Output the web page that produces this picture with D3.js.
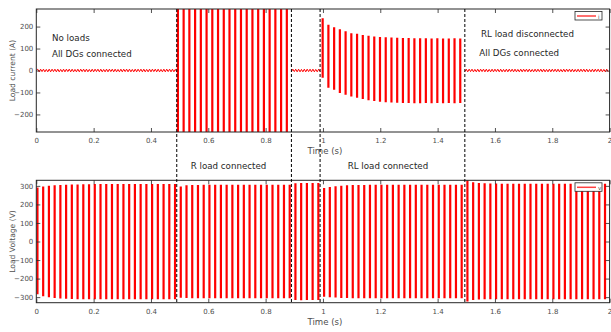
<!DOCTYPE html>
<html>
<head>
<meta charset="utf-8">
<script src="https://cdn.jsdelivr.net/npm/d3@7"></script>
<style>
  body { margin: 0; background: #fff; }
  svg { display: block; font-family: 'DejaVu Sans', Verdana, sans-serif; }
</style>
</head>
<body>
<svg id="chart" width="611" height="332"></svg>
<script>
// switching instants (s): R load on, R load off, RL load on, RL load off
const events = [0.49, 0.89, 0.99, 1.495]

const xTicks = [0, 0.2, 0.4, 0.6, 0.8, 1, 1.2, 1.4, 1.6, 1.8, 2]
const iTicks = [-200, -100, 0, 100, 200]
const vTicks = [-300, -200, -100, 0, 100, 200, 300]

// load current ripple with no load, peaks every 5 ms
const iRippleA = [
  0, 6, -6, 6, -5, 6, -6, 5, -6, 6,
  -6, 6, -5, 6, -6, 6, -6, 5, -6, 6,
  -6, 6, -5, 6, -6, 6, -6, 5, -6, 6,
  -6, 6, -5, 6, -6, 6, -6, 5, -6, 6,
  -6, 6, -5, 6, -6, 6, -6, 5, -6, 6,
  -6, 6, -5, 6, -6, 6, -6, 5, -6, 6,
  -6, 6, -5, 6, -6, 6, -6, 5, -6, 6,
  -6, 6, -5, 6, -6, 6, -6, 5, -6, 6,
  -6, 6, -5, 6, -6, 6, -6, 5, -6, 6,
  -6, 6, -5, 6, -6, 6, -6, 5, -6,
]
const iRippleB = [
  -6, 6, -5, 6, -6, 6, -6, 5, -6, 6,
  -6, 6, -5, 6, -6, 6, -6, 5, -6, 6,
  -4,
]
const iRippleC = [
  -5, 6, -6, 6, -5, 6, -6, 5, -6, 6,
  -6, 6, -5, 6, -6, 6, -6, 5, -6, 6,
  -6, 6, -5, 6, -6, 6, -6, 5, -6, 6,
  -6, 6, -5, 6, -6, 6, -6, 5, -6, 6,
  -6, 6, -5, 6, -6, 6, -6, 5, -6, 6,
  -6, 6, -5, 6, -6, 6, -6, 5, -6, 6,
  -6, 6, -5, 6, -6, 6, -6, 5, -6, 6,
  -6, 6, -5, 6, -6, 6, -6, 5, -6, 6,
  -6, 6, -5, 6, -6, 6, -6, 5, -6, 6,
  -6, 6, -5, 6, -6, 6, -6, 5, -6, 6,
  -6,
]

// load current peaks per 50 Hz cycle (A), R load period (clipped by the axes)
const iRPos = [338, 342, 340, 341, 339, 342, 340, 341, 340, 342, 339, 341, 340, 342, 340, 341, 339, 342, 340, 341]
const iRNeg = [-336, -340, -339, -341, -340, -338, -341, -340, -339, -341, -340, -338, -341, -340, -339, -341, -340, -338, -341, -340]

// load current peaks per cycle (A), RL load period
const iRLPos = [238, 208, 197, 188, 179, 170, 167, 162, 158, 155, 153, 151, 150, 149, 148, 148, 147, 147, 147, 146, 147, 146, 146, 147, 146]
const iRLNeg = [-33, -79, -88, -102, -110, -118, -124, -130, -135, -139, -142, -144, -146, -147, -148, -148, -149, -149, -148, -149, -148, -149, -148, -149, -148]

// load voltage peaks per 50 Hz cycle (V)
const vPos = [
  291, 296, 300, 303, 305, 306, 307, 308, 309, 309,
  310, 310, 310, 310, 310, 310, 310, 310, 310, 310,
  310, 310, 310, 310, 310, 297, 303, 305, 305, 306,
  306, 306, 306, 306, 306, 306, 306, 306, 306, 306,
  306, 306, 306, 306, 306, 314, 316, 316, 315, 315,
  288, 294, 298, 301, 303, 304, 305, 305, 306, 306,
  306, 306, 306, 306, 306, 306, 306, 306, 306, 306,
  306, 306, 306, 306, 306, 330, 320, 316, 314, 313,
  313, 312, 312, 312, 312, 312, 312, 312, 312, 312,
  312, 312, 312, 312, 312, 312, 312, 312, 312, 312,
]
const vNeg = [
  -284, -295, -300, -305, -307, -309, -310, -311, -311, -311,
  -311, -311, -311, -311, -311, -311, -311, -311, -311, -311,
  -311, -311, -311, -311, -311, -303, -305, -306, -306, -306,
  -306, -306, -306, -306, -306, -306, -306, -306, -306, -306,
  -306, -306, -306, -306, -306, -316, -317, -316, -316, -316,
  -298, -300, -302, -304, -305, -306, -306, -306, -306, -306,
  -306, -306, -306, -306, -306, -306, -306, -306, -306, -306,
  -306, -306, -306, -306, -306, -323, -316, -313, -312, -311,
  -311, -311, -311, -311, -311, -311, -311, -311, -311, -311,
  -311, -311, -311, -311, -311, -311, -311, -311, -311, -311,
]

const period = 0.02
const seg = (start, step, values) => values.map((v, k) => ({ t: start + k * step, v }))
const cycles = (start, hi, lo) => hi.map((h, k) => ({ t: start + k * period, hi: h, lo: lo[k] }))

const panels = [
  {
    top: 9, bottom: 132, domain: [-280, 280], ticks: iTicks, label: 'Load current (A)', key: 'i',
    ripple: [seg(0, 0.005, iRippleA), seg(0.89, 0.005, iRippleB), seg(1.495, 0.005, iRippleC)],
    swings: [...cycles(0.494, iRPos, iRNeg), ...cycles(0.999, iRLPos, iRLNeg)],
  },
  {
    top: 180.3, bottom: 302.7, domain: [-330, 330], ticks: vTicks, label: 'Load Voltage (V)', key: 'v',
    ripple: [],
    swings: cycles(0.004, vPos, vNeg),
  },
]

const svg = d3.select('#chart')
const left = 36.3
const right = 609.6
const x = d3.scaleLinear().domain([0, 2]).range([left, right])
const axisColor = '#262626'
const textColor = '#4d4d4d'
const red = '#ff0000'

panels.forEach((p, n) => {
  const y = d3.scaleLinear().domain(p.domain).range([p.bottom, p.top])
  const g = svg.append('g')

  g.append('clipPath')
    .attr('id', `clip${n}`)
    .append('rect')
      .attr('x', left)
      .attr('y', p.top)
      .attr('width', right - left)
      .attr('height', p.bottom - p.top)

  const plot = g.append('g').attr('clip-path', `url(#clip${n})`)

  const line = d3.line()
    .x((d) => x(d.t))
    .y((d) => y(d.v))

  plot.selectAll('path')
    .data(p.ripple)
    .join('path')
      .attr('fill', 'none')
      .attr('stroke', red)
      .attr('stroke-width', 1)
      .attr('d', line)

  // each 50 Hz cycle spans its negative to positive peak
  plot.selectAll('line')
    .data(p.swings)
    .join('line')
      .attr('x1', (d) => x(d.t))
      .attr('x2', (d) => x(d.t))
      .attr('y1', (d) => y(d.lo))
      .attr('y2', (d) => y(d.hi))
      .attr('stroke', red)
      .attr('stroke-width', 2.2)

  // mirrored, inward ticks
  const axes = [
    { axis: d3.axisBottom(x).tickValues(xTicks).tickFormat(d3.format('')), at: `translate(0,${p.bottom})` },
    { axis: d3.axisTop(x).tickValues(xTicks).tickFormat(''), at: `translate(0,${p.top})` },
    { axis: d3.axisLeft(y).tickValues(p.ticks), at: `translate(${left},0)` },
    { axis: d3.axisRight(y).tickValues(p.ticks).tickFormat(''), at: `translate(${right},0)` },
  ]
  axes.forEach((a, k) => {
    const ag = g.append('g')
      .attr('transform', a.at)
      .call(a.axis.tickSizeInner(-4).tickSizeOuter(0).tickPadding(k < 2 ? 6 : 3))
    ag.select('.domain').remove()
    ag.selectAll('line').attr('stroke', axisColor).attr('stroke-width', 0.8)
    ag.selectAll('text')
      .attr('fill', textColor)
      .style('font-size', '7px')
      .style('font-family', "'DejaVu Sans', Verdana, sans-serif")
  })

  g.append('rect')
    .attr('x', left)
    .attr('y', p.top)
    .attr('width', right - left)
    .attr('height', p.bottom - p.top)
    .attr('fill', 'none')
    .attr('stroke', axisColor)
    .attr('stroke-width', 1)

  g.append('text')
    .attr('transform', `translate(14.5,${(p.top + p.bottom) / 2}) rotate(-90)`)
    .attr('text-anchor', 'middle')
    .attr('fill', textColor)
    .style('font-size', '7.6px')
    .text(p.label)

  g.append('text')
    .attr('x', (left + right) / 2 + 2)
    .attr('y', p.bottom + 22)
    .attr('text-anchor', 'middle')
    .attr('fill', textColor)
    .style('font-size', '8.6px')
    .text('Time (s)')

  // legend
  const lg = g.append('g').attr('transform', `translate(575,${p.top + 2.5})`)
  lg.append('rect')
    .attr('width', 27)
    .attr('height', 8.5)
    .attr('fill', '#fff')
    .attr('stroke', axisColor)
    .attr('stroke-width', 0.8)
  lg.append('line')
    .attr('x1', 2).attr('x2', 21)
    .attr('y1', 4.5).attr('y2', 4.5)
    .attr('stroke', '#ff4040')
    .attr('stroke-width', 1.5)
  lg.append('text')
    .attr('x', 23)
    .attr('y', 7)
    .attr('fill', textColor)
    .style('font-size', '5.5px')
    .text(p.key)
})

// annotations
const notes = [
  { x: 52, y: 40.5, text: 'No loads' },
  { x: 52, y: 56.7, text: 'All DGs connected' },
  { x: 481, y: 36.7, text: 'RL load disconnected' },
  { x: 479.3, y: 55.7, text: 'All DGs connected' },
  { x: 190.7, y: 169, text: 'R load connected' },
  { x: 347.7, y: 169, text: 'RL load connected' },
]
svg.append('g').selectAll('text')
  .data(notes)
  .join('text')
    .attr('x', (d) => d.x)
    .attr('y', (d) => d.y)
    .attr('fill', '#262626')
    .style('font-size', '8.7px')
    .text((d) => d.text)

// dashed event markers across both panels
svg.append('g').selectAll('line')
  .data(events)
  .join('line')
    .attr('x1', (d) => x(d))
    .attr('x2', (d) => x(d))
    .attr('y1', panels[0].top)
    .attr('y2', panels[1].bottom)
    .attr('stroke', '#000')
    .attr('stroke-width', 1)
    .attr('stroke-dasharray', '3,2')
</script>
</body>
</html>
